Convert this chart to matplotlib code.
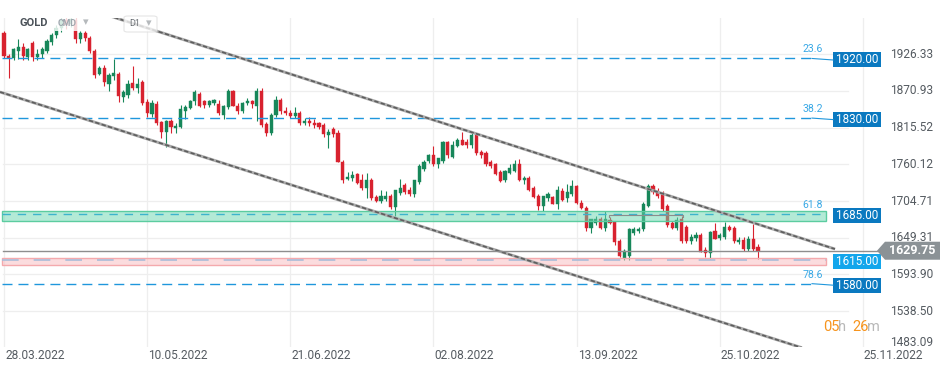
import matplotlib
matplotlib.use('Agg')
import matplotlib.pyplot as plt
from matplotlib.patches import Rectangle, Polygon, FancyBboxPatch
from matplotlib.lines import Line2D
import numpy as np

plt.rcParams['font.family'] = ['Roboto', 'DejaVu Sans']

# ---------------- data ----------------
opens = [1959, 1924, 1920, 1932, 1938, 1922, 1943, 1922, 1926, 1931,
         1945, 1956, 1966, 1978, 1972, 1978, 1950, 1958, 1951, 1931,
         1897, 1906, 1882, 1893, 1897, 1862, 1865, 1883, 1875, 1884,
         1854, 1836, 1852, 1824, 1809, 1825, 1815, 1816, 1841, 1845,
         1856, 1867, 1856, 1850, 1853, 1852, 1834, 1846, 1871, 1848,
         1841, 1853, 1856, 1848, 1871, 1821, 1807, 1835, 1858, 1840,
         1838, 1833, 1838, 1823, 1826, 1823, 1822, 1820, 1805, 1814,
         1808, 1764, 1738, 1739, 1745, 1737, 1725, 1736, 1711, 1705,
         1708, 1713, 1696, 1717, 1729, 1722, 1715, 1733, 1753, 1765,
         1774, 1761, 1765, 1794, 1772, 1788, 1797, 1794, 1789, 1804,
         1779, 1777, 1764, 1760, 1748, 1736, 1747, 1750, 1760, 1736,
         1740, 1725, 1712, 1697, 1710, 1711, 1701, 1720, 1710, 1715,
         1727, 1702, 1695, 1664, 1672, 1678, 1664, 1676, 1673, 1644,
         1619, 1622, 1657, 1659, 1662, 1698, 1728, 1720, 1716, 1698,
         1671, 1664, 1677, 1666, 1645, 1649, 1653, 1631, 1626, 1659,
         1649, 1651, 1665, 1664, 1643, 1646, 1632, 1648, 1636]
highs = [1962, 1926, 1936, 1950, 1944, 1936, 1946, 1934, 1938, 1949,
         1958, 1971, 1982, 1985, 1998, 1985, 1962, 1962, 1954, 1934,
         1909, 1910, 1898, 1919, 1900, 1872, 1888, 1908, 1891, 1888,
         1859, 1858, 1856, 1826, 1827, 1828, 1822, 1849, 1850, 1857,
         1872, 1869, 1858, 1858, 1859, 1857, 1850, 1874, 1873, 1853,
         1855, 1860, 1858, 1876, 1876, 1824, 1838, 1864, 1860, 1846,
         1842, 1846, 1840, 1830, 1831, 1829, 1824, 1822, 1813, 1816,
         1812, 1767, 1748, 1750, 1747, 1745, 1747, 1740, 1714, 1722,
         1720, 1716, 1722, 1738, 1732, 1726, 1737, 1760, 1767, 1776,
         1788, 1768, 1795, 1796, 1795, 1800, 1809, 1798, 1808, 1806,
         1782, 1780, 1766, 1762, 1751, 1752, 1760, 1766, 1768, 1742,
         1742, 1727, 1715, 1713, 1718, 1713, 1728, 1724, 1730, 1736,
         1729, 1706, 1698, 1678, 1682, 1681, 1690, 1680, 1675, 1648,
         1632, 1664, 1666, 1666, 1703, 1730, 1730, 1724, 1720, 1700,
         1674, 1680, 1682, 1669, 1655, 1658, 1656, 1636, 1659, 1671,
         1656, 1673, 1668, 1667, 1650, 1650, 1652, 1670, 1640]
lows = [1921, 1890, 1917, 1919, 1918, 1918, 1916, 1918, 1920, 1928,
        1941, 1951, 1960, 1965, 1968, 1944, 1944, 1946, 1929, 1891,
        1895, 1878, 1871, 1888, 1855, 1854, 1860, 1872, 1868, 1850,
        1832, 1832, 1819, 1800, 1787, 1808, 1807, 1815, 1829, 1843,
        1850, 1846, 1845, 1847, 1849, 1835, 1829, 1843, 1848, 1836,
        1838, 1849, 1845, 1826, 1817, 1803, 1804, 1832, 1836, 1834,
        1830, 1830, 1820, 1819, 1818, 1815, 1813, 1802, 1785, 1802,
        1763, 1732, 1736, 1735, 1731, 1722, 1710, 1707, 1704, 1702,
        1705, 1693, 1682, 1714, 1716, 1712, 1711, 1731, 1750, 1762,
        1758, 1754, 1762, 1770, 1769, 1786, 1789, 1785, 1785, 1775,
        1770, 1758, 1754, 1744, 1733, 1733, 1746, 1748, 1735, 1730,
        1720, 1709, 1691, 1690, 1705, 1700, 1693, 1705, 1704, 1713,
        1700, 1692, 1659, 1656, 1668, 1662, 1660, 1670, 1638, 1620,
        1615, 1616, 1654, 1657, 1660, 1696, 1716, 1710, 1690, 1665,
        1662, 1661, 1642, 1642, 1640, 1645, 1628, 1621, 1618, 1647,
        1646, 1648, 1660, 1642, 1640, 1630, 1629, 1630, 1617]
closes = [1924, 1920, 1934, 1938, 1924, 1934, 1922, 1926, 1934, 1947,
          1955, 1966, 1978, 1971, 1979, 1950, 1958, 1951, 1932, 1895,
          1905, 1885, 1895, 1898, 1863, 1869, 1881, 1876, 1882, 1853,
          1838, 1853, 1822, 1809, 1825, 1816, 1818, 1843, 1847, 1856,
          1869, 1848, 1850, 1856, 1858, 1838, 1848, 1871, 1848, 1841,
          1853, 1856, 1851, 1871, 1819, 1807, 1835, 1858, 1840, 1838,
          1833, 1838, 1823, 1826, 1823, 1819, 1817, 1806, 1809, 1806,
          1764, 1736, 1741, 1744, 1732, 1725, 1737, 1710, 1705, 1712,
          1713, 1696, 1721, 1725, 1718, 1716, 1736, 1757, 1764, 1774,
          1760, 1769, 1794, 1774, 1790, 1797, 1790, 1789, 1804, 1778,
          1774, 1760, 1758, 1745, 1735, 1750, 1754, 1760, 1736, 1739,
          1722, 1711, 1697, 1712, 1715, 1701, 1721, 1707, 1718, 1727,
          1702, 1695, 1664, 1678, 1678, 1664, 1678, 1672, 1643, 1622,
          1629, 1662, 1663, 1663, 1701, 1728, 1718, 1712, 1693, 1668,
          1664, 1676, 1644, 1644, 1651, 1654, 1628, 1627, 1658, 1648,
          1653, 1666, 1661, 1644, 1646, 1632, 1647, 1633, 1629.75]

date_labels = ['28.03.2022', '10.05.2022', '21.06.2022', '02.08.2022',
               '13.09.2022', '25.10.2022', '25.11.2022']
date_label_bars = [0, 30, 60, 90, 120, 150, 180]

y_ticks = [1926.33, 1870.93, 1815.52, 1760.12, 1704.71, 1649.31,
           1593.90, 1538.50, 1483.09]

fib_ratios = ['23.6', '38.2', '61.8', '78.6']
fib_levels = [1920.00, 1830.00, 1685.00, 1580.00]
support_level = 1615.00
current_price = 1629.75

# channel lines: (bar, price) end points
upper_channel = ([0.0, 174.14], [2035.5, 1632.3])
lower_channel = ([-0.84, 167.2], [1869.4, 1483.3])

# small marker line drawn on the 61.8 zone: (bar_start, bar_end, price)
zone_marker = (126.7, 142.3, 1683.0)

# ---------------- layout ----------------
W, H = 949, 373
fig = plt.figure(figsize=(W / 100, H / 100), dpi=100)
fig.patch.set_facecolor('white')

AX_L, AX_R, AX_T, AX_B = 0, 870, 18, 347
X0, PXB = 4.0, 4.772
YTOP, YBOT = 1981.1, 1484.4

ax = fig.add_axes([AX_L / W, 1 - AX_B / H, (AX_R - AX_L) / W, (AX_B - AX_T) / H])
XMIN = (AX_L - X0) / PXB
XMAX = (AX_R - X0) / PXB
ax.set_xlim(XMIN, XMAX)
ax.set_ylim(YBOT, YTOP)
ax.axis('off')


def bx(px):
    return (px - X0) / PXB


def py(p):
    return AX_T + (YTOP - p) / (YTOP - YBOT) * (AX_B - AX_T)


def F(x, y):
    return (x / W, 1 - y / H)


def ftext(x, y, s, **kw):
    fig.text(x / W, 1 - y / H, s, **kw)


GRID = '#eeeeee'
XL = bx(3)
# grid
for v in y_ticks:
    ax.plot([XL, bx(848)], [v, v], color=GRID, lw=0.9, zorder=0)
for b in date_label_bars:
    ax.plot([b, b], [YBOT, YTOP], color=GRID, lw=0.9, zorder=0)

# candles
o = np.array(opens, float)
c = np.array(closes, float)
h = np.maximum(np.array(highs, float), np.maximum(o, c))
l = np.minimum(np.array(lows, float), np.minimum(o, c))
idx = np.arange(len(o))
GREEN, RED = '#17875a', '#d8222f'
cols = np.where(c >= o, GREEN, RED)
ax.vlines(idx, l, h, colors=cols, lw=0.8, zorder=3)
ax.bar(idx, np.maximum(np.abs(c - o), 1.3), bottom=np.minimum(o, c), width=0.66,
       color=cols, edgecolor=cols, lw=0.3, zorder=4)

# bands
BL = bx(2)
band_end = bx(826)
ax.add_patch(Rectangle((BL, 1674.6), band_end - BL, 15.1, facecolor='#69d7af',
                       alpha=0.5, edgecolor='none', zorder=5))
ax.add_patch(Rectangle((BL, 1674.6), band_end - BL, 15.1, facecolor='none',
                       edgecolor='#5ccca0', lw=1, zorder=5))
ax.add_patch(Rectangle((BL, 1608.2), band_end - BL, 10.1, facecolor='#f9bbbf',
                       alpha=0.5, edgecolor='none', zorder=5))
ax.add_patch(Rectangle((BL, 1608.2), band_end - BL, 10.1, facecolor='none',
                       edgecolor='#f4a9ad', lw=1, zorder=5))

# fib dashed lines
FIB_C = '#1f97dc'
dash_end = bx(812)
for i, lv in enumerate(fib_levels):
    if lv == 1685.00:
        ax.plot([BL, band_end], [lv, lv], color='#3db4cc', lw=1, dashes=(6, 5), zorder=6)
    else:
        ax.plot([BL, dash_end], [lv, lv], color=FIB_C, lw=1, dashes=(7.2, 4.3), zorder=6)
        fig.add_artist(Line2D([812 / W, 833 / W], [1 - py(lv) / H, 1 - (py(lv) + 1.5) / H],
                              color=FIB_C, lw=0.8))
ax.plot([BL, band_end], [support_level, support_level], color='#a9bcd9', lw=1.2,
        dashes=(10, 9), zorder=6)

# marker on the 61.8 zone
mx0, mx1, mp = zone_marker
ax.plot([mx0, mx0, mx1, mx1], [mp - 3, mp, mp, mp - 3], color='#8c8c8c', lw=0.8, zorder=6)

# current price line
yc = py(current_price)
fig.add_artist(Line2D([3 / W, 879 / W], [1 - yc / H, 1 - yc / H], color='#8e8e8e', lw=1))

# channel lines
for xs, ys in (upper_channel, lower_channel):
    ax.plot(xs, ys, color='#ababab', lw=2.1, solid_capstyle='butt', zorder=7)
    ax.plot(xs, ys, color='#5e5e5e', lw=1.2, dashes=(2.6, 1.4), zorder=8)

# right axis tick labels
for v in y_ticks:
    yy = min(py(v), 342)
    ftext(890, yy, f'{v:.2f}', fontsize=8.6, color='#555b61', ha='left', va='center')

# date labels
for b, s in zip(date_label_bars, date_labels):
    ftext(X0 + b * PXB + 1, 355.5, s, fontsize=8.6, color='#555b61', ha='left', va='center')

# fib ratio labels
for r, lv in zip(fib_ratios, fib_levels):
    ftext(823, py(lv) - 9, r, fontsize=7.6, color='#3aa9e6', ha='right', va='center')

# price boxes
DARK_BLUE, LIGHT_BLUE = '#0a79c0', '#13a6ec'
for lv, colr in list(zip(fib_levels, [DARK_BLUE] * 4)) + [(support_level, LIGHT_BLUE)]:
    yy = py(lv) + 1.5
    fig.add_artist(Rectangle(F(833, yy + 7.5), 48 / W, 15 / H, transform=fig.transFigure,
                             facecolor=colr, edgecolor='none'))
    ftext(857, yy, f'{lv:.2f}', fontsize=8.4, color='white', ha='center', va='center')

# current price tag
poly = [F(877, yc), F(885, yc - 9), F(940, yc - 9), F(940, yc + 9), F(885, yc + 9)]
fig.add_artist(Polygon(poly, closed=True, transform=fig.transFigure,
                       facecolor='#8b9296', edgecolor='none'))
ftext(912, yc, f'{current_price:.2f}', fontsize=9, color='white', ha='center',
      va='center', fontweight='bold')

# timer
ftext(823, 327, '05', fontsize=10.5, color='#f7941d', ha='left', va='center')
ftext(838, 327, 'h', fontsize=10.5, color='#b8b8b8', ha='left', va='center')
ftext(852, 327, '26', fontsize=10.5, color='#f7941d', ha='left', va='center')
ftext(867, 327, 'm', fontsize=10.5, color='#b8b8b8', ha='left', va='center')

# header
fig.add_artist(Rectangle(F(55, 31), 40 / W, 15 / H, transform=fig.transFigure,
                         facecolor='white', alpha=0.82, edgecolor='none'))
ftext(20, 23, 'GOLD', fontsize=8, color='#4b5259', fontweight='bold', ha='left', va='center')
ftext(58, 24, 'CMD', fontsize=6.3, color='#9ea7ae', fontweight='bold', ha='left', va='center')
ftext(83, 22, '\u25be', fontsize=8, color='#b5b9bc', ha='left', va='center',
      family='DejaVu Sans')
fig.add_artist(FancyBboxPatch(F(124, 32), 33 / W, 16 / H, transform=fig.transFigure,
                              boxstyle='round,pad=0,rounding_size=0.004',
                              facecolor='white', alpha=0.75, edgecolor='#dddddd', lw=0.8))
ftext(129, 24, 'D1', fontsize=6.5, color='#6a6f74', ha='left', va='center')
ftext(146, 23.5, '\u25be', fontsize=8, color='#b5b9bc', ha='left', va='center',
      family='DejaVu Sans')

fig.savefig('out.png', dpi=100, facecolor='white')
